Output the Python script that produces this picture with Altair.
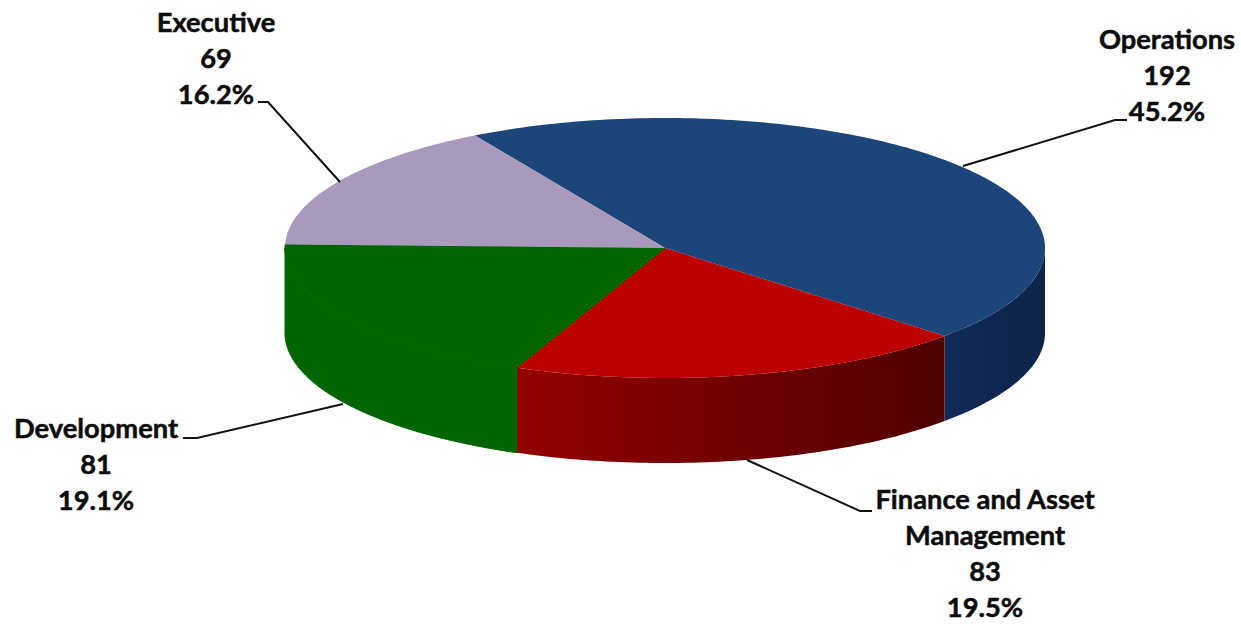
import numpy as np
import altair as alt

# Headcount by division
divisions = ["Operations", "Finance and Asset Management", "Development", "Executive"]
headcount = [192, 83, 81, 69]
share_labels = ["45.2%", "19.5%", "19.1%", "16.2%"]
label_lines = [["Operations"], ["Finance and Asset", "Management"], ["Development"], ["Executive"]]

# Pie geometry in screen units
CX, CY, RX, RY, DEPTH = 665, 248, 380, 130, 85
START_DEG = -30

TOP_FILL = ["#1c4579", "#ba0000", "#006400", "#a899bd"]
WALL_FILL = [("#122b57", "#0c2349"), ("#940000", "#4e0000")]

# Label placement: centre x, first line centre y
LABEL_POS = [(1167, 40.5), (985, 501), (96, 429.5), (216, 23.5)]
LINE_STEP = 36
LEADERS = [
    [(1127, 120), (1115, 120), (963, 166)],
    [(872, 511), (860, 511), (747, 460)],
    [(183, 438), (197, 438), (343, 404)],
    [(258, 102), (268, 102), (340, 182)],
]

total = sum(headcount)
edges = START_DEG + np.concatenate([[0], np.cumsum(headcount)]) / total * 360


def rim(a0, a1, dy=0.0, step=1.0):
    n = max(2, int(abs(a1 - a0) / step) + 1)
    t = np.radians(np.linspace(a0, a1, n))
    return [[float(CX + RX * np.sin(v)), float(CY - RY * np.cos(v) + dy)] for v in t]


def polygon(ring):
    ring = ring + [ring[0]]
    return {"type": "Feature", "properties": {}, "geometry": {"type": "Polygon", "coordinates": [ring]}}


def line(points):
    return {"type": "Feature", "properties": {},
            "geometry": {"type": "LineString", "coordinates": [list(p) for p in points]}}


PROJ = dict(type="identity", scale=1, translate=[0, 0])


def shape(feature, **mark):
    return alt.Chart(alt.Data(values=[feature])).mark_geoshape(**mark).project(**PROJ)


def gradient(c0, c1):
    return alt.Gradient(
        gradient="linear", x1=0, x2=1, y1=0, y2=0,
        stops=[alt.GradientStop(color=c0, offset=0), alt.GradientStop(color=c1, offset=1)],
    )


layers = []

# Outer wall of the slices on the near half of the disc; green is a flat fill
for i in range(3):
    a0, a1 = max(edges[i], 90), min(edges[i + 1], 270)
    wall = polygon(rim(a0, a1) + rim(a1, a0, DEPTH))
    if i < 2:
        layers.append(shape(wall, fill=gradient(*WALL_FILL[i])))
    else:
        layers.append(shape(wall, fill=TOP_FILL[i], stroke=TOP_FILL[i], strokeWidth=1))

# Top faces; the green one carries a thin outline so it merges with its wall
for i in range(4):
    face = polygon([[CX, CY]] + rim(edges[i], edges[i + 1]))
    if i == 2:
        layers.append(shape(face, fill=TOP_FILL[i], stroke=TOP_FILL[i], strokeWidth=1))
    else:
        layers.append(shape(face, fill=TOP_FILL[i]))

# Leader lines
for pts in LEADERS:
    layers.append(shape(line(pts), filled=False, stroke="#111111", strokeWidth=2))

# Labels: name lines, count, percentage
rows = []
for i in range(4):
    texts = label_lines[i] + [str(headcount[i]), share_labels[i]]
    for k, t in enumerate(texts):
        rows.append({"text": t, "lon": LABEL_POS[i][0], "lat": LABEL_POS[i][1] + k * LINE_STEP})

labels = (
    alt.Chart(alt.Data(values=rows))
    .mark_text(font="Lato", fontWeight="bold", fontSize=27.3, color="#0c0c0c",
               stroke="#0c0c0c", strokeWidth=0.5, align="center", baseline="middle")
    .encode(longitude="lon:Q", latitude="lat:Q", text="text:N")
    .project(**PROJ)
)
layers.append(labels)

chart = (
    alt.layer(*layers)
    .properties(width=1241, height=624, padding=0, autosize="none", background="white")
    .configure_view(stroke=None)
)
chart.save("out.html", embed_options={"renderer": "svg", "actions": False})
